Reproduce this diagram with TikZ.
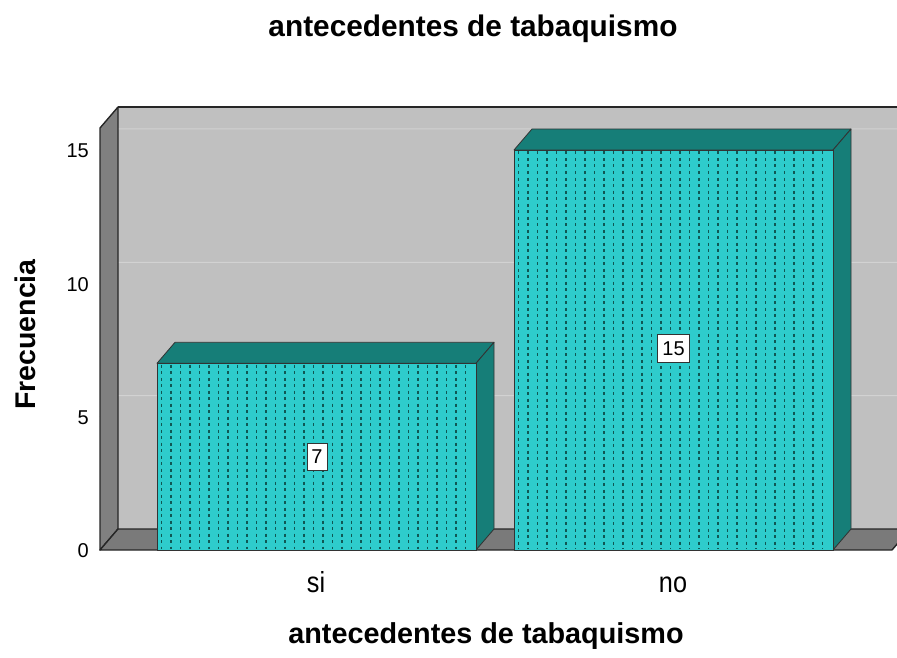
\documentclass[tikz,border=0pt]{standalone}
\usepackage{fontspec}
\setmainfont{Liberation Sans}
\newfontfamily\catfont[FakeStretch=0.87]{Liberation Sans}
\usetikzlibrary{arrows}
\usetikzlibrary{shapes}

\definecolor{backwall}{RGB}{192,192,192}
\definecolor{sidewall}{RGB}{128,128,128}
\definecolor{floorwall}{RGB}{122,122,122}
\definecolor{gridline}{RGB}{210,210,210}
\definecolor{barface}{RGB}{46,204,204}
\definecolor{barside}{RGB}{22,126,120}

\begin{document}
\begin{tikzpicture}[x=1pt, y=-1pt, font=\fontsize{20}{24}\selectfont]
	\tikzstyle{wallStyle} = [draw=black!85, line width=1.4pt, line join=round]
	\tikzstyle{gridStyle} = [draw=gridline, line width=1pt]
	\tikzstyle{faceStyle} = [fill=barface, draw=black!80, line width=0.8pt]
	\tikzstyle{sideStyle} = [fill=barside, draw=black!80, line width=0.8pt, line join=round]
	\tikzstyle{hatchStyle} = [draw=barside!70!black, line width=1.2pt, dash pattern=on 3pt off 3.5pt]
	\tikzstyle{valueStyle} = [draw=black!80, fill=white, inner xsep=4.5pt, inner ysep=7pt, line width=0.8pt]
	\tikzstyle{tickStyle} = [anchor=east, inner sep=0pt]
	\tikzstyle{catStyle} = [anchor=base, inner sep=0pt, font=\catfont\fontsize{29}{30}\selectfont]
	\tikzstyle{titleStyle} = [anchor=base, inner sep=0pt, font=\bfseries\fontsize{29.8}{32}\selectfont]
	\useasboundingbox (0,0) rectangle (897,658);
	\begin{scope}
	\clip (0,0) rectangle (897,658);
	% walls and floor
	\fill[backwall] (118,107) rectangle (930,529);
	\foreach \v in {5,10,15}{
		\pgfmathsetmacro\yf{550-\v*26.667}
		\draw[gridStyle] (100,\yf) -- (118,\yf-21) -- (930,\yf-21);
	}
	\filldraw[wallStyle, fill=sidewall] (100,128) -- (118,107) -- (118,529) -- (100,550) -- cycle;
	\filldraw[wallStyle, fill=floorwall] (100,550) -- (118,529) -- (910,529) -- (892,550) -- cycle;
	\draw[wallStyle] (118,107) -- (930,107);
	\end{scope}
	% bar si
	\filldraw[sideStyle] (157,363.3) -- (175,342.3) -- (494,342.3) -- (476,363.3) -- cycle;
	\filldraw[sideStyle] (476,363.3) -- (494,342.3) -- (494,529) -- (476,550) -- cycle;
	\filldraw[faceStyle] (157,363.3) rectangle (476,550);
	\foreach \x in {161.5,171,...,474}
		\draw[hatchStyle] (\x,364.5) -- (\x,549);
	% bar no
	\filldraw[sideStyle] (514,150) -- (532,129) -- (851,129) -- (833,150) -- cycle;
	\filldraw[sideStyle] (833,150) -- (851,129) -- (851,529) -- (833,550) -- cycle;
	\filldraw[faceStyle] (514,150) rectangle (833,550);
	\foreach \x in {518.5,528,...,831}
		\draw[hatchStyle] (\x,151.5) -- (\x,549);
	% values
	\node[valueStyle] (v7) at (317,457) {7};
	\node[valueStyle] (v15) at (673.5,348.5) {15};
	% axes
	\foreach \v in {0,5,10,15}
		\node[tickStyle] (t\v) at (89,551-\v*26.667) {\v};
	\node[catStyle] (si) at (316,592) {si};
	\node[catStyle] (no) at (673,592) {no};
	\node[titleStyle] (title) at (473,37) {antecedentes de tabaquismo};
	\node[titleStyle, font=\bfseries\fontsize{28.8}{31}\selectfont] (xtitle) at (486,643) {antecedentes de tabaquismo};
	\node[titleStyle, font=\bfseries\fontsize{28.5}{31}\selectfont, rotate=90] (ytitle) at (35,334.5) {Frecuencia};
\end{tikzpicture}
\end{document}
